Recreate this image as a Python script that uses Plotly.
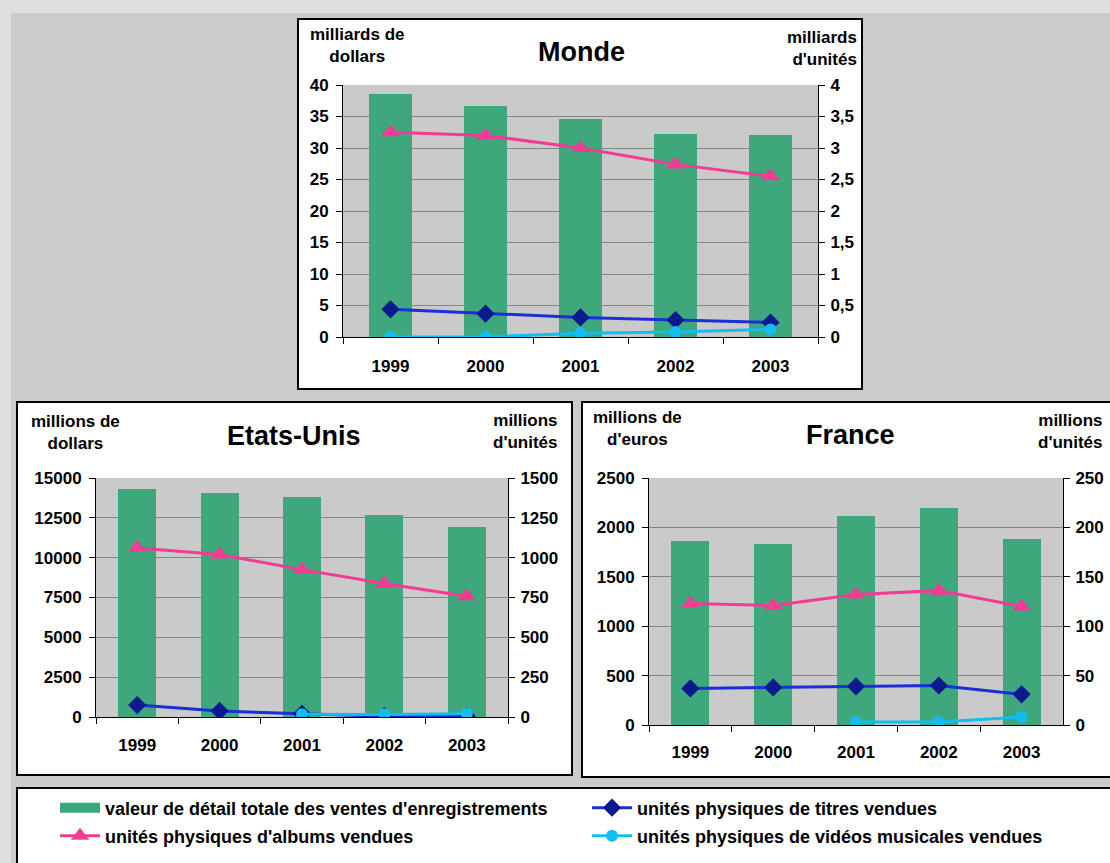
import plotly.graph_objects as go

W, H = 1110, 863
FONT = "Liberation Sans, Arial, sans-serif"

years = ["1999", "2000", "2001", "2002", "2003"]

# Monde : milliards de dollars / milliards d'unités
monde_valeur = [38.6, 36.7, 34.6, 32.3, 32.1]
monde_titres = [0.44, 0.37, 0.31, 0.27, 0.23]
monde_albums = [3.25, 3.2, 3.0, 2.74, 2.55]
monde_videos = [0.0, 0.0, 0.06, 0.08, 0.12]

# Etats-Unis : millions de dollars / millions d'unités
us_valeur = [14300, 14080, 13800, 12650, 11900]
us_titres = [75, 38, 20, 5, 5]
us_albums = [1060, 1020, 925, 838, 758]
us_videos = [None, None, 18, 15, 20]

# France : millions d'euros / millions d'unités
fr_valeur = [1865, 1830, 2120, 2200, 1885]
fr_titres = [37, 38, 39, 40, 31]
fr_albums = [123, 121, 132, 136, 120]
fr_videos = [None, None, 3, 3, 8]

monde_left_ticks = [0, 5, 10, 15, 20, 25, 30, 35, 40]
monde_right_ticks = [0, 0.5, 1, 1.5, 2, 2.5, 3, 3.5, 4]
us_left_ticks = [0, 2500, 5000, 7500, 10000, 12500, 15000]
us_right_ticks = [0, 250, 500, 750, 1000, 1250, 1500]
fr_left_ticks = [0, 500, 1000, 1500, 2000, 2500]
fr_right_ticks = [0, 50, 100, 150, 200, 250]

names = {
    "valeur": "valeur de détail totale des ventes d'enregistrements",
    "titres": "unités physiques de titres vendues",
    "albums": "unités physiques d'albums vendues",
    "videos": "unités physiques de vidéos musicales vendues",
}

GREEN = "#3ea77b"
PINK = "#f23c94"
BLUE_LINE = "#1a2fd6"
BLUE_MARK = "#0b1a8e"
CYAN = "#14bdf0"
PLOT_BG = "#cacaca"
GRID = "#858585"


def px(x):
    return x / W


def py(y):
    return 1 - y / H


def fmt(v):
    return f"{v:g}".replace(".", ",")


fig = go.Figure()

charts = [
    # axes, values, ticks and pixel box of each plot area
    dict(x="x", yl="y", yr="y2", data=(monde_valeur, monde_titres, monde_albums, monde_videos),
         lt=monde_left_ticks, rt=monde_right_ticks, area=(343, 818, 85, 337), legend=True,
         standoff=14),
    dict(x="x2", yl="y3", yr="y4", data=(us_valeur, us_titres, us_albums, us_videos),
         lt=us_left_ticks, rt=us_right_ticks, area=(96, 508, 478, 717), legend=False,
         standoff=13),
    dict(x="x3", yl="y5", yr="y6", data=(fr_valeur, fr_titres, fr_albums, fr_videos),
         lt=fr_left_ticks, rt=fr_right_ticks, area=(649, 1063, 478, 725), legend=False,
         standoff=12),
]

# legend key for the bar series (wide green block)
fig.add_trace(go.Scatter(x=[None], y=[None], mode="lines", name=names["valeur"],
                         line=dict(color=GREEN, width=10), legend="legend",
                         xaxis="x", yaxis="y", hoverinfo="skip"))

for c in charts:
    valeur, titres, albums, videos = c["data"]
    fig.add_trace(go.Bar(x=years, y=valeur, width=0.46, marker=dict(color=GREEN, line=dict(width=0)),
                         xaxis=c["x"], yaxis=c["yl"], showlegend=False, name=names["valeur"]))
    fig.add_trace(go.Scatter(x=years, y=titres, mode="lines+markers", name=names["titres"],
                             line=dict(color=BLUE_LINE, width=3),
                             marker=dict(symbol="diamond", size=14, color=BLUE_MARK),
                             xaxis=c["x"], yaxis=c["yr"], showlegend=c["legend"], legend="legend"))
    fig.add_trace(go.Scatter(x=years, y=albums, mode="lines+markers", name=names["albums"],
                             line=dict(color=PINK, width=3),
                             marker=dict(symbol="triangle-up", size=16, color=PINK),
                             xaxis=c["x"], yaxis=c["yr"], showlegend=c["legend"], legend="legend2"))
    fig.add_trace(go.Scatter(x=years, y=videos, mode="lines+markers", name=names["videos"],
                             line=dict(color=CYAN, width=3),
                             marker=dict(symbol="circle", size=12, color=CYAN),
                             xaxis=c["x"], yaxis=c["yr"], showlegend=c["legend"], legend="legend2"))

tickfont = dict(family=FONT, size=17, color="black", weight="bold")
axis_common = dict(ticks="outside", ticklen=6, tickcolor="black", tickwidth=1,
                   showline=True, linecolor="black", linewidth=1, zeroline=False,
                   tickfont=tickfont, fixedrange=True)

layout_axes = {}
for i, c in enumerate(charts):
    x0, x1, ytop, ybot = c["area"]
    xname = "xaxis" if i == 0 else f"xaxis{i + 1}"
    yl_name = "yaxis" if c["yl"] == "y" else "yaxis" + c["yl"][1:]
    yr_name = "yaxis" + c["yr"][1:]
    layout_axes[xname] = dict(domain=[px(x0), px(x1)], anchor=c["yl"], type="category",
                              range=[-0.5, 4.5], tickson="boundaries", showgrid=False,
                              ticklabelstandoff=c["standoff"], **axis_common)
    layout_axes[yl_name] = dict(domain=[py(ybot), py(ytop)], anchor=c["x"],
                                range=[0, c["lt"][-1]], tickvals=c["lt"],
                                ticktext=[fmt(v) for v in c["lt"]],
                                showgrid=True, gridcolor=GRID, gridwidth=1,
                                ticklabelstandoff=4, **axis_common)
    layout_axes[yr_name] = dict(domain=[py(ybot), py(ytop)], anchor=c["x"], overlaying=c["yl"],
                                side="right", range=[0, c["rt"][-1]], tickvals=c["rt"],
                                ticktext=[fmt(v) for v in c["rt"]], showgrid=False,
                                ticklabelstandoff=2, **axis_common)

shapes = [
    dict(type="rect", xref="paper", yref="paper", x0=px(11), x1=1.0, y0=0, y1=py(13),
         fillcolor="#cbcbcb", line=dict(width=0), layer="below"),
]
boxes = [(298, 862, 19, 389), (17, 572, 402, 775), (582, 1120, 402, 777), (17, 1120, 788, 880)]
for x0, x1, y0, y1 in boxes:
    shapes.append(dict(type="rect", xref="paper", yref="paper", x0=px(x0), x1=px(x1),
                       y0=py(y1), y1=py(y0), fillcolor="white",
                       line=dict(color="black", width=2), layer="below"))
for c in charts:
    x0, x1, ytop, ybot = c["area"]
    shapes.append(dict(type="rect", xref="paper", yref="paper", x0=px(x0), x1=px(x1),
                       y0=py(ybot), y1=py(ytop), fillcolor=PLOT_BG, line=dict(width=0),
                       layer="below"))

unit_font = dict(family=FONT, size=17, color="black", weight="bold")
title_font = dict(family=FONT, size=27, color="black", weight="bold")


def label(text, x, y, font, xanchor="center", align="center"):
    return dict(text=text, x=px(x), y=py(y), xref="paper", yref="paper", showarrow=False,
                xanchor=xanchor, yanchor="middle", align=align, font=font)


annotations = [
    label("milliards de<br>dollars", 357, 45, unit_font),
    label("Monde", 581, 52, title_font),
    label("milliards<br>d'unités", 859, 48, unit_font, xanchor="right", align="right"),
    label("millions de<br>dollars", 75, 432, unit_font),
    label("Etats-Unis", 294, 436, title_font),
    label("millions<br>d'unités", 560, 431, unit_font, xanchor="right", align="right"),
    label("millions de<br>d'euros", 637, 429, unit_font),
    label("France", 850, 435, title_font),
    label("millions<br>d'unités", 1105, 431, unit_font, xanchor="right", align="right"),
]

legend_font = dict(family=FONT, size=18, color="black", weight="bold")
legend_common = dict(orientation="h", xanchor="left", yanchor="middle", bgcolor="rgba(0,0,0,0)",
                     borderwidth=0, font=legend_font, itemwidth=40, entrywidth=477,
                     traceorder="normal", itemclick=False, itemdoubleclick=False)

fig.update_layout(
    width=W, height=H, margin=dict(l=0, r=0, t=0, b=0, pad=0, autoexpand=False),
    paper_bgcolor="#dedede", plot_bgcolor="rgba(0,0,0,0)",
    showlegend=True, hovermode=False, bargap=0,
    legend=dict(x=px(55), y=py(808), **legend_common),
    legend2=dict(x=px(55), y=py(836), **legend_common),
    shapes=shapes, annotations=annotations,
    font=dict(family=FONT, color="black"),
    **layout_axes,
)

fig.write_html("out.html", config=dict(displayModeBar=False, staticPlot=True))
